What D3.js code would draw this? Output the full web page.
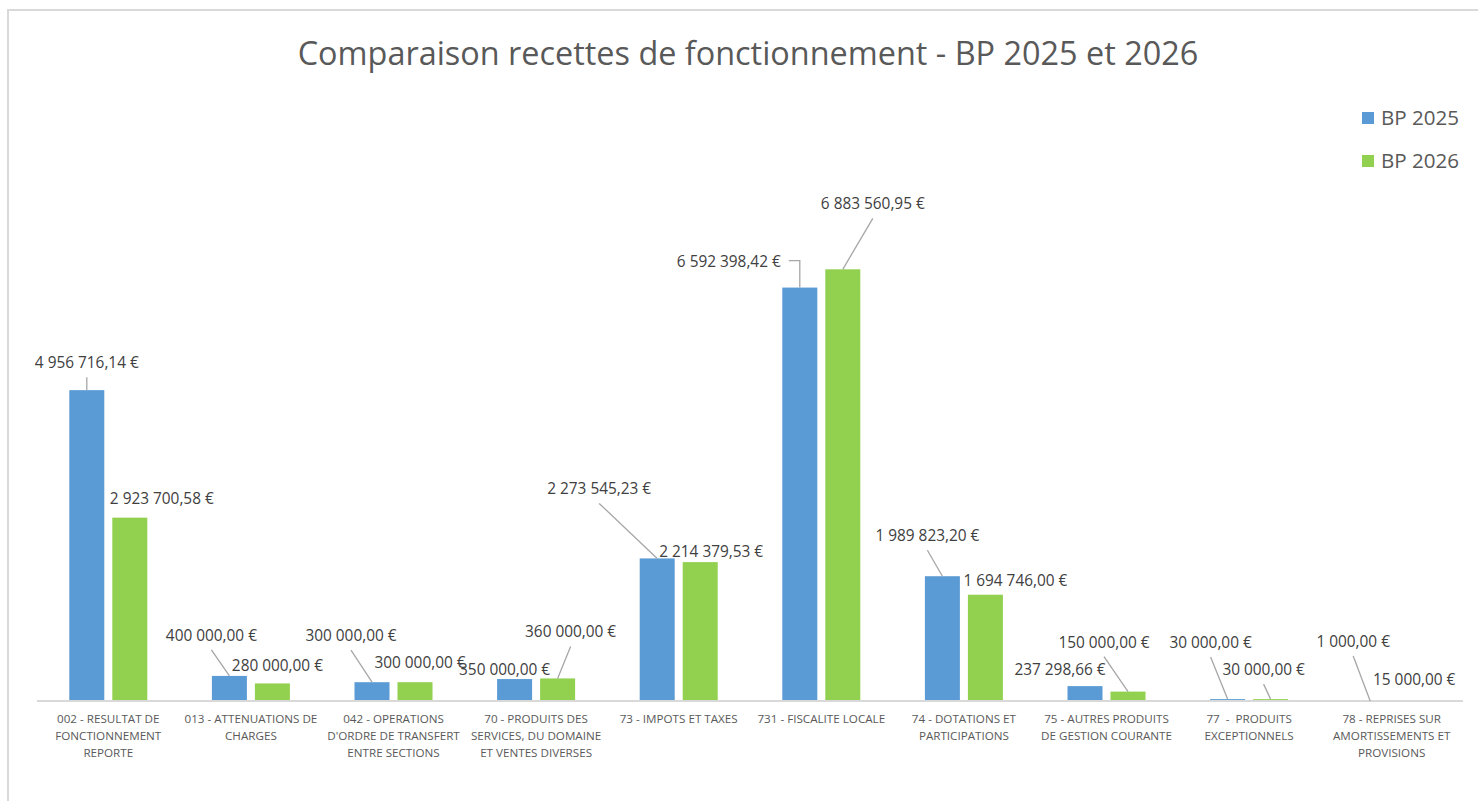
<!DOCTYPE html>
<html>
<head>
<meta charset="utf-8">
<script src="https://cdn.jsdelivr.net/npm/d3@7"></script>
<style>
  body { margin: 0; background: #fff; }
  svg text { font-family: "Open Sans", "Noto Sans", sans-serif; white-space: pre; }
</style>
</head>
<body>
<script>

// ---- data ----
var title = "Comparaison recettes de fonctionnement - BP 2025 et 2026";

var categories = ["002", "013", "042", "70", "73", "731", "74", "75", "77", "78"];

var categoryLines = [
  ["002 - RESULTAT DE", "FONCTIONNEMENT", "REPORTE"],
  ["013 - ATTENUATIONS DE", "CHARGES"],
  ["042 - OPERATIONS", "D'ORDRE DE TRANSFERT", "ENTRE SECTIONS"],
  ["70 - PRODUITS DES", "SERVICES, DU DOMAINE", "ET VENTES DIVERSES"],
  ["73 - IMPOTS ET TAXES"],
  ["731 - FISCALITE LOCALE"],
  ["74 - DOTATIONS ET", "PARTICIPATIONS"],
  ["75 - AUTRES PRODUITS", "DE GESTION COURANTE"],
  ["77  -  PRODUITS", "EXCEPTIONNELS"],
  ["78 - REPRISES SUR", "AMORTISSEMENTS ET", "PROVISIONS"]
];

var seriesNames = ["BP 2025", "BP 2026"];

var bp2025 = [4956716.14, 400000, 300000, 350000, 2273545.23, 6592398.42, 1989823.20, 237298.66, 30000, 1000];
var bp2026 = [2923700.58, 280000, 300000, 360000, 2214379.53, 6883560.95, 1694746.00, 150000, 30000, 15000];

// data label placement (offset from bar top centre), leader: 0 none, 1 straight, 2 elbow
var labelOffsets2025 = [[0,-27],[-18,-40],[-21,-46],[-10,-9],[-58,-69],[-71,-26],[-15,-40],[-25,-16],[-17,-56],[-17,-59]];
var labelOffsets2026 = [[32,-19],[5,-17],[5,-19],[13,-46],[11,-10],[30,-65],[30,-14],[-24,-49],[-7,-29],[1,-20]];
var leaders2025 = [1,1,1,0,1,2,1,0,1,1];
var leaders2026 = [0,0,0,1,0,1,0,1,1,0];

var colors = ["#5b9bd5", "#92d050"];

// ---- setup ----
var W = 1478, H = 801;
var plotLeft = 37, plotRight = 1463, baseY = 701, topY = 262;

var svg = d3.select("body").append("svg")
  .attr("width", W)
  .attr("height", H);

// chart border (only top and left visible in the crop)
svg.append("path")
  .attr("d", "M8," + H + "V10H" + W)
  .attr("fill", "none")
  .attr("stroke", "#d9d9d9")
  .attr("stroke-width", 2);

var fr = d3.formatLocale({decimal: ",", thousands: " ", grouping: [3], currency: ["", " €"]});
var fmt = fr.format("$,.2f");

// scales
var x0 = d3.scaleBand()
  .domain(categories)
  .range([plotLeft, plotRight])
  .paddingInner(0)
  .paddingOuter(0);

var x1 = d3.scaleBand()
  .domain([0, 1])
  .range([0, x0.bandwidth()])
  .paddingInner(0.186)
  .paddingOuter(0.751);

var y = d3.scaleLinear()
  .domain([0, 7000000])
  .range([baseY, topY]);

// font fitting helper: pick font size so sample string has target width
function fitSize(sample, target, base) {
  var t = svg.append("text").attr("font-size", base).text(sample);
  var w = t.node().getComputedTextLength();
  t.remove();
  return base * target / w;
}

var titleSize = fitSize(title, 901, 30);
var labelSize = fitSize("4 956 716,14 €", 104, 14);
var catSize = fitSize("013 - ATTENUATIONS DE", 133, 12);
var legendSize = fitSize("BP 2025", 78, 18);

// title
svg.append("text")
  .attr("x", 748)
  .attr("y", 65)
  .attr("text-anchor", "middle")
  .attr("font-size", titleSize)
  .attr("fill", "#595959")
  .text(title);

// bars
var series = [bp2025, bp2026];
var offsets = [labelOffsets2025, labelOffsets2026];
var leaders = [leaders2025, leaders2026];

var gBars = svg.append("g").attr("class", "g_bars");

series.forEach(function(vals, s) {
  gBars.selectAll(".bar" + s)
    .data(vals)
    .enter().append("rect")
    .attr("class", "bar" + s)
    .attr("x", function(d, i) { return x0(categories[i]) + x1(s); })
    .attr("width", x1.bandwidth())
    .attr("y", function(d) { return y(d); })
    .attr("height", function(d) { return baseY - y(d); })
    .attr("fill", colors[s]);
});

// axis line
svg.append("line")
  .attr("x1", plotLeft).attr("x2", plotRight)
  .attr("y1", baseY).attr("y2", baseY)
  .attr("stroke", "#d9d9d9")
  .attr("stroke-width", 2);

// category labels
var gCat = svg.append("g").attr("class", "x_axis");
categoryLines.forEach(function(lines, i) {
  var cx = x0(categories[i]) + x0.bandwidth() / 2;
  var t = gCat.append("text")
    .attr("text-anchor", "middle")
    .attr("font-size", catSize)
    .attr("fill", "#595959");
  lines.forEach(function(l, k) {
    t.append("tspan")
      .attr("x", cx)
      .attr("y", 723 + k * 17)
      .text(l);
  });
});

// data labels + leader lines
var gLab = svg.append("g").attr("class", "g_labels");
series.forEach(function(vals, s) {
  vals.forEach(function(v, i) {
    var bx = x0(categories[i]) + x1(s) + x1.bandwidth() / 2;
    var by = y(v);
    var lx = bx + offsets[s][i][0];
    var ly = by + offsets[s][i][1];
    var lead = leaders[s][i];
    if (lead == 1) {
      gLab.append("line")
        .attr("x1", lx).attr("y1", ly + 14)
        .attr("x2", bx).attr("y2", by)
        .attr("stroke", "#a6a6a6")
        .attr("stroke-width", 1.3);
    } else if (lead == 2) {
      gLab.append("path")
        .attr("d", "M" + (lx + 60) + "," + (ly - 1) + "H" + bx + "V" + by)
        .attr("fill", "none")
        .attr("stroke", "#a6a6a6")
        .attr("stroke-width", 1.3);
    }
    gLab.append("text")
      .attr("x", lx)
      .attr("y", ly + 5)
      .attr("text-anchor", "middle")
      .attr("font-size", labelSize)
      .attr("fill", "#404040")
      .text(fmt(v));
  });
});

// legend
var gLeg = svg.append("g").attr("class", "legend");
seriesNames.forEach(function(n, s) {
  var ly = 118 + s * 43;
  gLeg.append("rect")
    .attr("x", 1362).attr("y", ly - 6)
    .attr("width", 12).attr("height", 12)
    .attr("fill", colors[s]);
  gLeg.append("text")
    .attr("x", 1381)
    .attr("y", ly + 7)
    .attr("font-size", legendSize)
    .attr("fill", "#595959")
    .text(n);
});

</script>
</body>
</html>
